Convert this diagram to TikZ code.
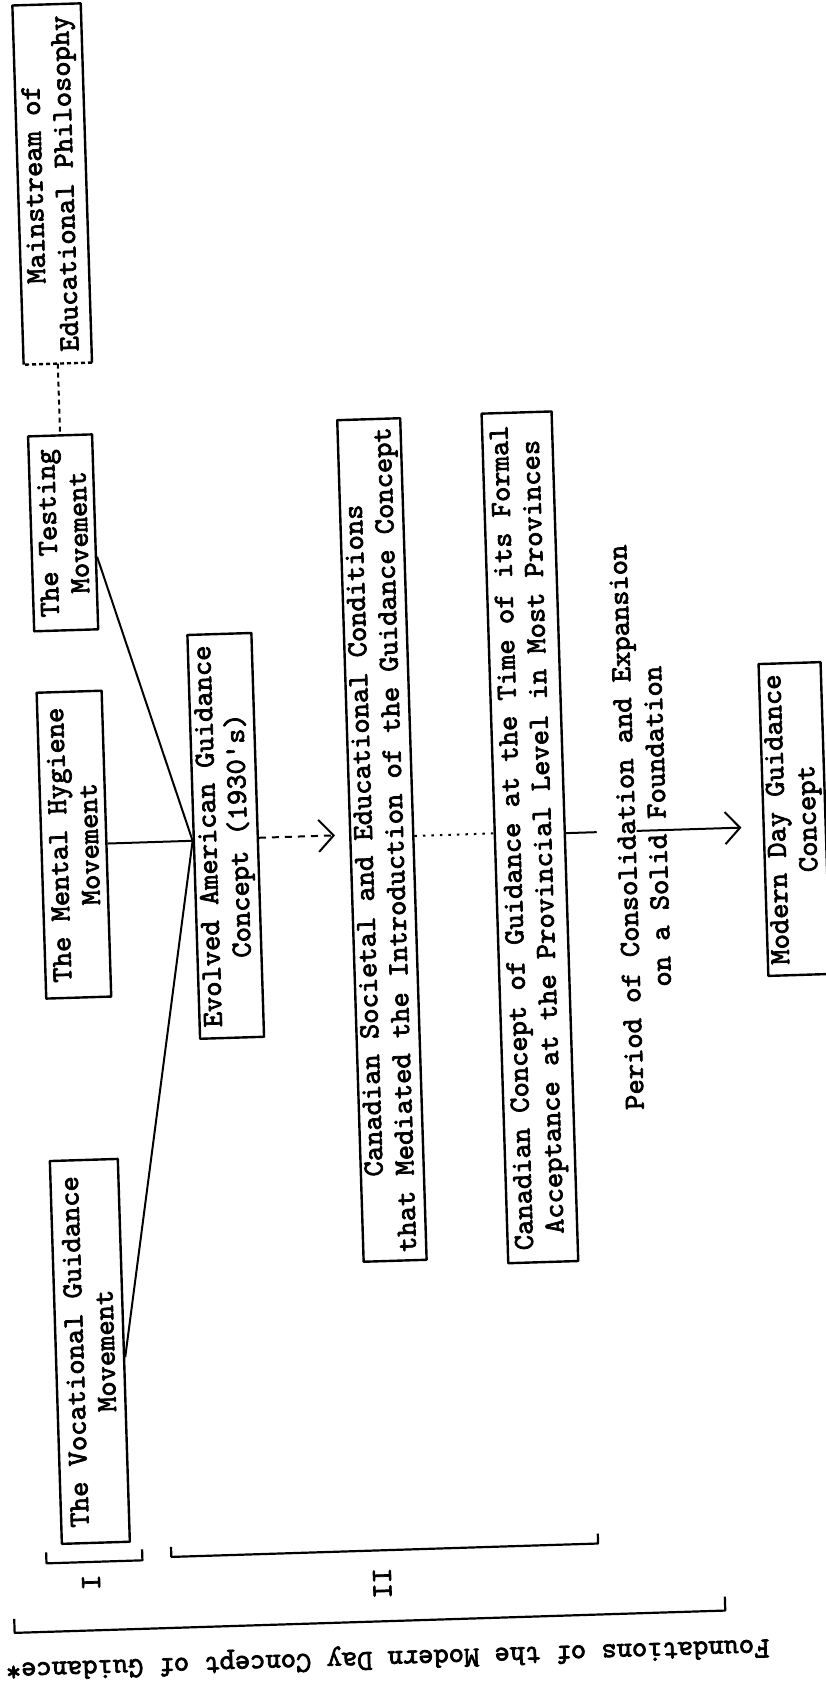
\documentclass[tikz,border=0pt]{standalone}
\usepackage{fontspec}
\usetikzlibrary{arrows.meta}
\newfontfamily\twfam{lmmono10-regular.otf}[FakeBold=2.5]
\newcommand\tw{\twfam\fontsize{29.1pt}{31pt}\selectfont}
\begin{document}
\begin{tikzpicture}[x=1pt,y=-1pt,
  boxline/.style={line width=2.4pt, line join=round},
  box/.style={draw, boxline, rotate=90, align=center, font=\tw, inner sep=0pt},
  txt/.style={rotate=90, align=center, font=\tw, inner sep=0pt},
  conn/.style={line width=2pt},
  barb/.style={-{Straight Barb[length=15pt,width=32pt,line width=2pt]}},
  dotline/.style={conn, dash pattern=on 5pt off 4pt},
  dashline/.style={conn, dash pattern=on 7pt off 6pt},
  dotsline/.style={conn, dash pattern=on 2.5pt off 6pt},
  brk/.style={line width=2.2pt, line join=round}
]
\fill[white] (0,0) rectangle (826,1684);
\useasboundingbox (0,0) rectangle (826,1684);
\begin{scope}[rotate around={1.8:(413,842)}, transform shape]
% boxes
\node[box, draw=none, minimum width=357pt, minimum height=66pt] (main) at (73,173) {Mainstream of\\Educational Philosophy};
\draw[boxline] (main.north west) -- (main.north east) -- (main.south east) -- (main.south west);
\draw[boxline, dash pattern=on 4pt off 3pt] (main.south west) -- (main.north west);
\node[box, minimum width=195pt, minimum height=64pt] (test) at (73,522) {The Testing\\Movement};
\node[box, minimum width=306pt, minimum height=65pt] (mental) at (74,834) {The Mental Hygiene\\Movement};
\node[box, minimum width=383pt, minimum height=68pt] (voc) at (74,1341) {The Vocational Guidance\\Movement};
\node[box, minimum width=404pt, minimum height=64pt] (evol) at (226,830) {Evolved American Guidance\\Concept (1930's)};
\node[box, minimum width=842pt, minimum height=63pt] (soc) at (382,839) {Canadian Societal and Educational Conditions\\that Mediated the Introduction of the Guidance Concept};
\node[box, minimum width=850pt, minimum height=70pt] (conc) at (530,841) {Canadian Concept of Guidance at the Time of its Formal\\Acceptance at the Provincial Level in Most Provinces};
\node[txt] (period) at (642,834) {Period of Consolidation and Expansion\\on a Solid Foundation};
\node[box, minimum width=312pt, minimum height=62pt] (modern) at (795,831) {Modern Day Guidance\\Concept};
% connectors
\draw[dotline] (main.west) -- (test.east);
\coordinate (conv) at ([yshift=-4pt]evol.north);
\draw[conn] ([yshift=-25pt]test.south) -- (conv);
\draw[conn] (mental.south) -- (conv);
\draw[conn] ([yshift=-7pt]voc.south) -- (conv);
\draw[dashline, barb, shorten >=14pt] ([yshift=-3pt]evol.south) -- ([yshift=6pt]soc.north);
\draw[dotsline] ([yshift=3pt]soc.south) -- ([yshift=5pt]conc.north);
\coordinate (c1) at (597,838);
\coordinate (c2) at (637,838);
\draw[conn] ([yshift=3pt]conc.south) -- (c1);
\draw[conn, barb, shorten >=21pt] (c2) -- ([yshift=-7pt]modern.north);
% brackets
\draw[brk] (24,1540.5) -- (24,1551.5) -- (120,1551.5) -- (120,1540.5);
\draw[brk] (149,1539) -- (149,1549) -- (576,1549) -- (576,1539);
\draw[brk] (-10,1606) -- (-10,1620) -- (701,1620) -- (701,1606);
\node[txt] (lI) at (68,1572) {I};
\node[txt] (lII) at (359,1582) {II};
\node[font=\tw, rotate=180, inner sep=0pt] (cap) at (362,1656) {Foundations of the Modern Day Concept of Guidance*};
\end{scope}
\end{tikzpicture}
\end{document}
